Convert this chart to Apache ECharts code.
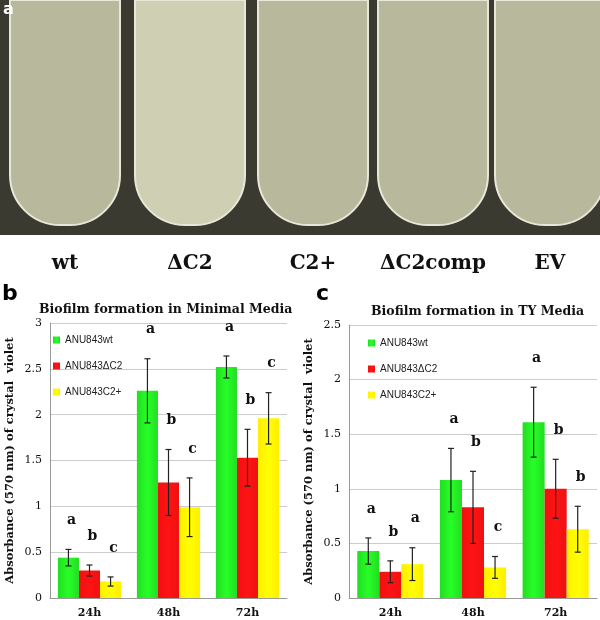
<!DOCTYPE html>
<html>
<head>
<meta charset="utf-8">
<script src="https://cdn.jsdelivr.net/npm/echarts@6/dist/echarts.min.js"></script>
<style>
  body { margin: 0; background: #fff; }
  #main { width: 600px; height: 620px; }
</style>
</head>
<body>
<div id="main"></div>
<script>
// data
var times = ['24h', '48h', '72h'];
var seriesNames = ['ANU843wt', 'ANU843\u0394C2', 'ANU843C2+'];
var colors = ['#22dd22', '#ee1111', '#ffee00'];

var minWt = [0.44, 2.26, 2.52], minWtErr = [0.09, 0.35, 0.12];
var minC2 = [0.30, 1.26, 1.53], minC2Err = [0.06, 0.36, 0.31];
var minPlus = [0.18, 0.99, 1.96], minPlusErr = [0.05, 0.32, 0.28];
var minLetters = [['a', 'a', 'a'], ['b', 'b', 'b'], ['c', 'c', 'c']];

var tyWt = [0.43, 1.08, 1.61], tyWtErr = [0.12, 0.29, 0.32];
var tyC2 = [0.24, 0.83, 1.00], tyC2Err = [0.10, 0.33, 0.27];
var tyPlus = [0.31, 0.28, 0.63], tyPlusErr = [0.15, 0.10, 0.21];
var tyLetters = [['a', 'a', 'a'], ['b', 'b', 'b'], ['a', 'c', 'b']];

var tubeLabels = ['wt', '\u0394C2', 'C2+', '\u0394C2comp', 'EV'];

var serif = 'DejaVu Serif';

function gradient(c) {
  return new echarts.graphic.LinearGradient(0, 0, 1, 0, [
    { offset: 0, color: c }, { offset: 0.5, color: echarts.color.lift(c, -0.15) }, { offset: 1, color: c }
  ]);
}

function errSeries(gi, si, vals, errs, letters, lift) {
  var data = vals.map(function (v, i) { return [i, v, errs[i], letters[i]]; });
  return {
    type: 'custom', xAxisIndex: gi, yAxisIndex: gi, z: 10,
    data: data,
    renderItem: function (params, api) {
      var i = api.value(0), v = api.value(1), e = api.value(2);
      var bw = api.size([1, 0])[0] * 0.8 / 3;
      var cx = api.coord([i, 0])[0] + (si - 1) * bw;
      var top = api.coord([i, v + e])[1];
      var bot = api.coord([i, v - e])[1];
      var lt = top - lift;
      var st = { stroke: '#222', lineWidth: 1.2 };
      return { type: 'group', children: [
        { type: 'line', shape: { x1: cx, y1: top, x2: cx, y2: bot }, style: st },
        { type: 'line', shape: { x1: cx - 3, y1: top, x2: cx + 3, y2: top }, style: st },
        { type: 'line', shape: { x1: cx - 3, y1: bot, x2: cx + 3, y2: bot }, style: st },
        { type: 'text', style: { text: letters[i], x: cx + 3, y: lt, align: 'center', verticalAlign: 'bottom',
          font: 'bold 14px "' + serif + '"', fill: '#111' } }
      ]};
    }
  };
}

var sets = [
  [[minWt, minWtErr], [minC2, minC2Err], [minPlus, minPlusErr], minLetters],
  [[tyWt, tyWtErr], [tyC2, tyC2Err], [tyPlus, tyPlusErr], tyLetters]
];

var series = [];
sets.forEach(function (s, gi) {
  for (var k = 0; k < 3; k++) {
    series.push({
      name: seriesNames[k], type: 'bar', xAxisIndex: gi, yAxisIndex: gi,
      data: s[k][0], barGap: 0, barCategoryGap: '20%',
      itemStyle: { color: gradient(colors[k]) }
    });
  }
  for (var k2 = 0; k2 < 3; k2++) {
    series.push(errSeries(gi, k2, s[k2][0], s[k2][1], s[3][k2], 22));
  }
});

var tubeGraphics = [{ type: 'rect', shape: { x: 0, y: 0, width: 600, height: 278 }, style: { fill: '#fff' } },
  { type: 'rect', shape: { x: 0, y: 0, width: 600, height: 235 }, style: { fill: '#3a3a30' } }];
var tubeX = [10, 135, 258, 378, 495];
tubeX.forEach(function (x, i) {
  tubeGraphics.push({ type: 'rect', shape: { x: x, y: 0, width: 110, height: 225, r: [0, 0, 50, 50] },
    style: { fill: i === 1 ? '#cfcfb4' : '#b8b89c', stroke: '#e8e8d8', lineWidth: 2 } });
  tubeGraphics.push({ type: 'text', style: { text: tubeLabels[i], x: x + 55, y: 264, align: 'center', verticalAlign: 'middle',
    font: 'bold 20px "' + serif + '"', fill: '#111' } });
});
tubeGraphics.push({ type: 'text', style: { text: 'a', x: 3, y: 2, font: 'bold 16px "DejaVu Sans"', fill: '#fff' } });
tubeGraphics.push({ type: 'text', style: { text: 'b', x: 2, y: 283, font: 'bold 22px "DejaVu Sans"', fill: '#000' } });
tubeGraphics.push({ type: 'text', style: { text: 'c', x: 316, y: 283, font: 'bold 22px "DejaVu Sans"', fill: '#000' } });

var chart = echarts.init(document.getElementById('main'));
chart.setOption({
  animation: false,
  backgroundColor: '#fff',
  graphic: tubeGraphics,
  title: [
    { text: 'Biofilm formation in Minimal Media', left: 34, top: 298, textStyle: { fontFamily: serif, fontSize: 12.5, fontWeight: 'bold', color: '#111' } },
    { text: 'Biofilm formation in TY Media', left: 366, top: 300, textStyle: { fontFamily: serif, fontSize: 12.5, fontWeight: 'bold', color: '#111' } }
  ],
  legend: [0, 1].map(function (gi) {
    return {
      data: seriesNames, orient: 'vertical', left: gi === 0 ? 48 : 363, top: gi === 0 ? 330 : 333,
      itemWidth: 7, itemHeight: 7, itemGap: 16, icon: 'rect',
      textStyle: { fontSize: 10, color: '#222', fontFamily: 'Liberation Sans' }
    };
  }),
  grid: [
    { left: 50, top: 323, width: 237, height: 275 },
    { left: 349, top: 325, width: 248, height: 273 }
  ],
  xAxis: [0, 1].map(function (gi) {
    return {
      type: 'category', gridIndex: gi, data: times,
      axisLine: { lineStyle: { color: '#999' } }, axisTick: { show: false },
      axisLabel: { fontFamily: serif, fontWeight: 'bold', fontSize: 11, color: '#111', margin: 10 }
    };
  }),
  yAxis: [0, 1].map(function (gi) {
    return {
      type: 'value', gridIndex: gi, min: 0, max: gi === 0 ? 3 : 2.5, interval: 0.5,
      name: 'Absorbance (570 nm) of crystal  violet', nameLocation: 'middle', nameGap: 34,
      nameTextStyle: { fontFamily: serif, fontWeight: 'bold', fontSize: 11.5, color: '#111' },
      axisLine: { show: true, lineStyle: { color: '#999' } }, axisTick: { show: false },
      axisLabel: { fontFamily: serif, fontSize: 11, color: '#111' },
      splitLine: { lineStyle: { color: '#ccc' } }
    };
  }),
  series: series
});
</script>
</body>
</html>
